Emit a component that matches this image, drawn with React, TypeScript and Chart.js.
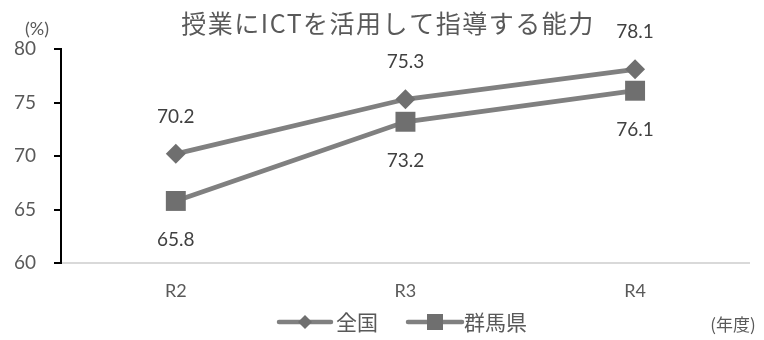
import React, { useEffect, useRef } from 'react';
import { Chart, registerables } from 'chart.js';

Chart.register(...registerables);

const categories = ['R2', 'R3', 'R4'];
const zenkoku = [70.2, 75.3, 78.1];
const gunma = [65.8, 73.2, 76.1];
const seriesNames = ['全国', '群馬県'];
const yMin = 60;
const yMax = 80;
const yStep = 5;
const titleText = '授業にICTを活用して指導する能力';
const yUnit = '(%)';
const xUnit = '(年度)';

const LINE = '#808080';
const MARK = '#6f6f6f';
const TEXT = '#595959';
const LABEL = '#404040';
const NUMFONT = "Lato, 'Noto Sans CJK JP', sans-serif";
const JPFONT = "'Noto Sans CJK JP', sans-serif";

function drawDiamond(ctx: CanvasRenderingContext2D, x: number, y: number, r: number) {
  ctx.beginPath();
  ctx.moveTo(x - r, y);
  ctx.lineTo(x, y - r);
  ctx.lineTo(x + r, y);
  ctx.lineTo(x, y + r);
  ctx.closePath();
  ctx.fill();
}

const overlayPlugin = {
  id: 'overlay',
  afterDatasetsDraw(chart: any) {
    const ctx: CanvasRenderingContext2D = chart.ctx;
    ctx.save();
    ctx.font = `19px ${NUMFONT}`;
    ctx.fillStyle = LABEL;
    ctx.textAlign = 'center';
    ctx.textBaseline = 'middle';
    chart.data.datasets.forEach((ds: any, di: number) => {
      const meta = chart.getDatasetMeta(di);
      meta.data.forEach((pt: any, i: number) => {
        const v = ds.data[i];
        const dy = di === 0 ? -37 : 39;
        ctx.fillText(v.toFixed(1), pt.x, pt.y + dy);
      });
    });
    ctx.restore();
  },
  afterDraw(chart: any) {
    const ctx: CanvasRenderingContext2D = chart.ctx;
    ctx.save();
    // title
    ctx.fillStyle = TEXT;
    ctx.textAlign = 'center';
    ctx.textBaseline = 'middle';
    ctx.font = `25px ${JPFONT}`;
    (ctx as any).letterSpacing = '1.5px';
    ctx.fillText(titleText, 388, 23);
    (ctx as any).letterSpacing = '0px';
    // units
    ctx.font = `18px ${NUMFONT}`;
    ctx.fillText(yUnit, 37, 29);
    ctx.font = `17px ${JPFONT}`;
    ctx.fillText(xUnit, 733, 325);
    // legend
    const ly = 322;
    ctx.strokeStyle = LINE;
    ctx.lineWidth = 4.5;
    ctx.lineCap = 'round';
    ctx.beginPath();
    ctx.moveTo(279, ly);
    ctx.lineTo(331, ly);
    ctx.stroke();
    ctx.fillStyle = MARK;
    drawDiamond(ctx, 305, ly, 7);
    ctx.beginPath();
    ctx.moveTo(408, ly);
    ctx.lineTo(462, ly);
    ctx.stroke();
    ctx.fillStyle = MARK;
    ctx.fillRect(435 - 8, ly - 8, 16, 16);
    ctx.fillStyle = TEXT;
    ctx.textAlign = 'left';
    ctx.font = `21px ${JPFONT}`;
    ctx.fillText(seriesNames[0], 336, ly);
    ctx.fillText(seriesNames[1], 464, ly);
    ctx.restore();
  },
};

export default function App() {
  const ref = useRef<HTMLCanvasElement | null>(null);
  useEffect(() => {
    document.body.style.margin = '0';
    const canvas = ref.current;
    if (!canvas) return;
    const chart = new Chart(canvas, {
      type: 'line',
      data: {
        labels: categories,
        datasets: [
          {
            label: seriesNames[0],
            data: zenkoku,
            borderColor: LINE,
            borderWidth: 4.8,
            backgroundColor: MARK,
            pointStyle: 'rectRot',
            pointRadius: 10,
            pointBorderWidth: 0,
            pointBackgroundColor: MARK,
            clip: false as any,
          },
          {
            label: seriesNames[1],
            data: gunma,
            borderColor: LINE,
            borderWidth: 4.8,
            backgroundColor: MARK,
            pointStyle: 'rect',
            pointRadius: 14.1,
            pointBorderWidth: 0,
            pointBackgroundColor: MARK,
            clip: false as any,
          },
        ],
      },
      options: {
        responsive: false,
        animation: false,
        layout: { padding: { left: 0, right: 11, top: 49, bottom: 0 } },
        plugins: {
          legend: { display: false },
          title: { display: false },
          tooltip: { enabled: false },
        },
        scales: {
          x: {
            offset: true,
            grid: { display: false, drawTicks: false },
            border: { display: true, color: '#d9d9d9', width: 2 },
            ticks: {
              color: TEXT,
              font: { family: NUMFONT, size: 18 },
              padding: 17,
            },
            afterFit: (scale: any) => {
              scale.height = 77;
            },
          },
          y: {
            min: yMin,
            max: yMax,
            grid: {
              drawOnChartArea: false,
              drawTicks: true,
              tickLength: 7,
              color: '#000',
              lineWidth: 2,
            },
            border: { display: true, color: '#000', width: 2 },
            ticks: {
              stepSize: yStep,
              color: TEXT,
              font: { family: NUMFONT, size: 19 },
              padding: 18,
            },
            afterFit: (scale: any) => {
              scale.width = 61;
            },
          },
        },
      },
      plugins: [overlayPlugin],
    });
    return () => chart.destroy();
  }, []);
  return (
    <div style={{ position: 'absolute', left: 0, top: 0, width: 764, height: 340 }}>
      <canvas ref={ref} width={764} height={340} />
    </div>
  );
}
